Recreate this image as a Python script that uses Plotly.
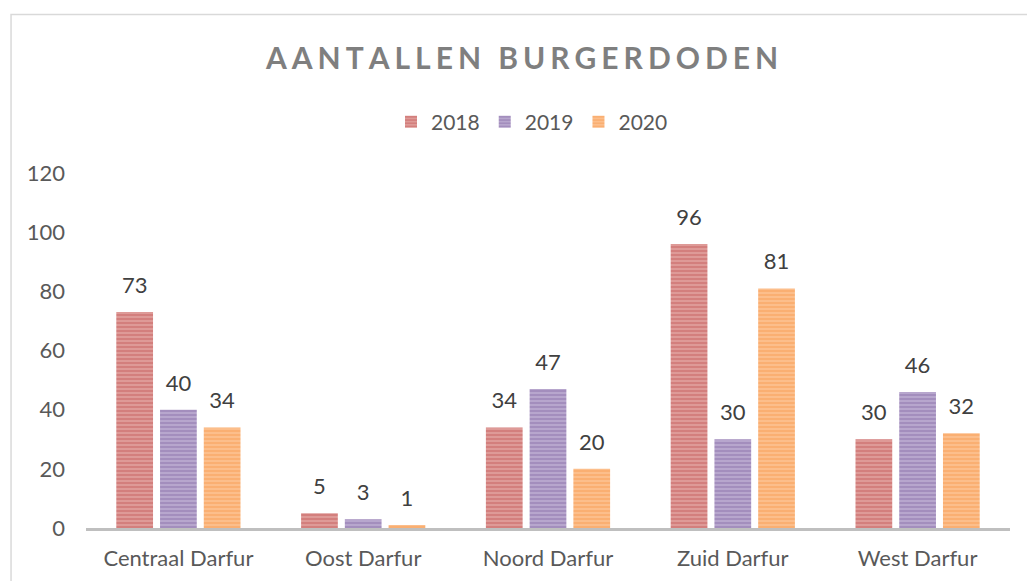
import plotly.graph_objects as go

categories = ["Centraal Darfur", "Oost Darfur", "Noord Darfur", "Zuid Darfur", "West Darfur"]
years = ["2018", "2019", "2020"]
values_2018 = [73, 5, 34, 96, 30]
values_2019 = [40, 3, 47, 30, 46]
values_2020 = [34, 1, 20, 81, 32]
series = {"2018": values_2018, "2019": values_2019, "2020": values_2020}

fg = {"2018": "#c0504d", "2019": "#8064a2", "2020": "#f79646"}
bg = {"2018": "#e7aeac", "2019": "#c6b9d9", "2020": "#fcc99e"}

W, H = 1027, 581
L, R, T, B = 85.5, 17, 173, 53
FONT = "Lato"
FS = 22

fig = go.Figure()
for y in years:
    fig.add_trace(go.Bar(
        x=categories, y=series[y], name=y, offsetgroup=y,
        marker=dict(color=bg[y], line=dict(width=0),
                    pattern=dict(shape="-", fgcolor=fg[y], bgcolor=bg[y],
                                 size=4, solidity=0.72)),
    ))
for y in years:
    fig.add_trace(go.Scatter(
        x=categories, y=series[y], offsetgroup=y, mode="markers+text",
        text=[str(v) for v in series[y]], textposition="top center",
        marker=dict(size=20, opacity=0), showlegend=False, hoverinfo="skip",
        textfont=dict(family=FONT, size=FS, color="#404040"), cliponaxis=False,
    ))

plot_w = W - L - R
plot_h = H - T - B
def px_x(p):
    return (p - L) / plot_w
def px_y(p):
    return (H - B - p) / plot_h

fig.add_shape(type="rect", xref="paper", yref="paper",
              x0=px_x(10.5), x1=px_x(1040), y0=px_y(14.5), y1=px_y(600),
              line=dict(color="#d9d9d9", width=1.5), fillcolor="rgba(0,0,0,0)")

sp = "\u2006"
title = sp.join("AANTALLEN") + sp + " " + sp + sp.join("BURGERDODEN")
fig.update_layout(
    width=W, height=H,
    margin=dict(l=L, r=R, t=T, b=B, autoexpand=False),
    paper_bgcolor="white", plot_bgcolor="white",
    barmode="group", scattermode="group", bargap=0.29, bargroupgap=0.16,
    title=dict(text=title, x=522 / W, xref="container", xanchor="center",
               y=1 - 58 / H, yref="container", yanchor="middle",
               font=dict(family=FONT, size=30, color="#7f7f7f", weight="bold")),
    legend=dict(orientation="h", xref="container", x=532 / W, xanchor="center",
                yref="container", y=1 - 122 / H, yanchor="middle",
                font=dict(family=FONT, size=21, color="#595959"),
                itemwidth=30, traceorder="normal"),
    showlegend=True,
    font=dict(family=FONT, size=FS, color="#595959"),
)
fig.update_xaxes(showline=True, linecolor="#bfbfbf", linewidth=3, ticks="",
                 showgrid=False, ticklabelstandoff=9, automargin=False,
                 tickfont=dict(family=FONT, size=FS, color="#595959"))
fig.update_yaxes(range=[0, 120], dtick=20, showgrid=False, zeroline=False,
                 showline=False, ticks="", ticklabelstandoff=20, automargin=False,
                 tickfont=dict(family=FONT, size=FS, color="#595959"))

fig.write_html("out.html")
